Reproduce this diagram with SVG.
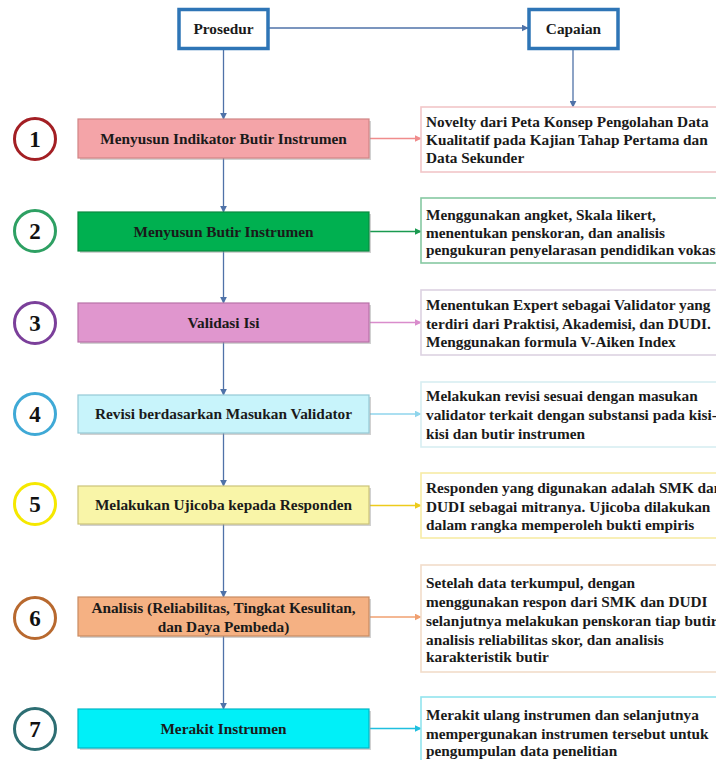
<svg xmlns="http://www.w3.org/2000/svg" width="716" height="760" viewBox="0 0 716 760">
<defs>
<style>
.t{font-family:"Liberation Serif","Times New Roman",serif;font-weight:bold;font-size:15.3px;fill:#1a1a1a}
.c{text-anchor:middle}
.num{font-family:"Liberation Serif","Times New Roman",serif;font-weight:bold;font-size:23px;fill:#111;text-anchor:middle}
.hdr{fill:#fff;stroke:#2E75B6;stroke-width:3.5}
.sh{fill:#9a9a9a;opacity:0.45}
.lb{stroke-width:1.2}
.rb{fill:#fff;stroke-width:1.6}
.circ{fill:#fff;stroke-width:3}
.v{stroke:#4F72A8;stroke-width:1.3;fill:none}
</style>
<marker id="ab" viewBox="0 0 10 10" refX="9" refY="5" markerWidth="7" markerHeight="7" markerUnits="userSpaceOnUse" orient="auto"><path d="M0,0 L10,5 L0,10 z" fill="#4F72A8"/></marker>
<marker id="a1" viewBox="0 0 10 10" refX="9" refY="5" markerWidth="7" markerHeight="7" markerUnits="userSpaceOnUse" orient="auto"><path d="M0,0 L10,5 L0,10 z" fill="#F08C8C"/></marker>
<marker id="a2" viewBox="0 0 10 10" refX="9" refY="5" markerWidth="7" markerHeight="7" markerUnits="userSpaceOnUse" orient="auto"><path d="M0,0 L10,5 L0,10 z" fill="#1A9A50"/></marker>
<marker id="a3" viewBox="0 0 10 10" refX="9" refY="5" markerWidth="7" markerHeight="7" markerUnits="userSpaceOnUse" orient="auto"><path d="M0,0 L10,5 L0,10 z" fill="#D98CCC"/></marker>
<marker id="a4" viewBox="0 0 10 10" refX="9" refY="5" markerWidth="7" markerHeight="7" markerUnits="userSpaceOnUse" orient="auto"><path d="M0,0 L10,5 L0,10 z" fill="#8FD5EC"/></marker>
<marker id="a5" viewBox="0 0 10 10" refX="9" refY="5" markerWidth="7" markerHeight="7" markerUnits="userSpaceOnUse" orient="auto"><path d="M0,0 L10,5 L0,10 z" fill="#EDCB1C"/></marker>
<marker id="a6" viewBox="0 0 10 10" refX="9" refY="5" markerWidth="7" markerHeight="7" markerUnits="userSpaceOnUse" orient="auto"><path d="M0,0 L10,5 L0,10 z" fill="#F0A070"/></marker>
<marker id="a7" viewBox="0 0 10 10" refX="9" refY="5" markerWidth="7" markerHeight="7" markerUnits="userSpaceOnUse" orient="auto"><path d="M0,0 L10,5 L0,10 z" fill="#1FBFDF"/></marker>
</defs>
<rect width="716" height="760" fill="#fff"/>

<g id="connectors">
<line class="v" x1="268" y1="28" x2="528" y2="28" marker-end="url(#ab)"/>
<line class="v" x1="573" y1="49" x2="573" y2="107" marker-end="url(#ab)"/>
<line class="v" x1="223.5" y1="49" x2="223.5" y2="119" marker-end="url(#ab)"/>
<line class="v" x1="223.5" y1="158" x2="223.5" y2="212" marker-end="url(#ab)"/>
<line class="v" x1="223.5" y1="251" x2="223.5" y2="303" marker-end="url(#ab)"/>
<line class="v" x1="223.5" y1="342" x2="223.5" y2="395" marker-end="url(#ab)"/>
<line class="v" x1="223.5" y1="433" x2="223.5" y2="486" marker-end="url(#ab)"/>
<line class="v" x1="223.5" y1="524" x2="223.5" y2="597" marker-end="url(#ab)"/>
<line class="v" x1="223.5" y1="636" x2="223.5" y2="709" marker-end="url(#ab)"/>
<line x1="370" y1="138.5" x2="421" y2="138.5" stroke="#F08C8C" stroke-width="1.4" marker-end="url(#a1)"/>
<line x1="370" y1="231.5" x2="421" y2="231.5" stroke="#1A9A50" stroke-width="1.4" marker-end="url(#a2)"/>
<line x1="370" y1="322.5" x2="421" y2="322.5" stroke="#D98CCC" stroke-width="1.4" marker-end="url(#a3)"/>
<line x1="370" y1="414" x2="421" y2="414" stroke="#8FD5EC" stroke-width="1.4" marker-end="url(#a4)"/>
<line x1="370" y1="505.5" x2="421" y2="505.5" stroke="#EDCB1C" stroke-width="1.4" marker-end="url(#a5)"/>
<line x1="370" y1="617" x2="421" y2="617" stroke="#F0A070" stroke-width="1.4" marker-end="url(#a6)"/>
<line x1="370" y1="728.5" x2="421" y2="728.5" stroke="#1FBFDF" stroke-width="1.4" marker-end="url(#a7)"/>
</g>

<g id="prosedur"><rect class="hdr" x="179" y="9.5" width="89" height="39"/><text class="t c" x="223.5" y="33.5">Prosedur</text></g>
<g id="capaian"><rect class="hdr" x="529" y="9.5" width="89" height="39"/><text class="t c" x="573.5" y="33.5">Capaian</text></g>

<g id="n1">
<circle class="circ" cx="35" cy="139" r="20.5" stroke="#A31F24"/><text class="num" x="35" y="147">1</text>
<rect class="sh" x="80" y="121" width="291" height="39"/>
<rect class="lb" x="78" y="119" width="291" height="39" fill="#F4A4A8" stroke="#D08585"/>
<text class="t c" x="223.5" y="143.5">Menyusun Indikator Butir Instrumen</text>
</g>
<g id="r1">
<rect class="rb" x="421" y="107" width="300" height="65" stroke="#F2C6C8"/>
<text class="t" x="426" y="127">Novelty dari Peta Konsep Pengolahan Data</text>
<text class="t" x="426" y="145">Kualitatif pada Kajian Tahap Pertama dan</text>
<text class="t" x="426" y="162.5">Data Sekunder</text>
</g>

<g id="n2">
<circle class="circ" cx="35" cy="231" r="20.5" stroke="#2EA063"/><text class="num" x="35" y="239">2</text>
<rect class="sh" x="80" y="214" width="291" height="39"/>
<rect class="lb" x="78" y="212" width="291" height="39" fill="#00B050" stroke="#0B8A40"/>
<text class="t c" x="223.5" y="236.5">Menyusun Butir Instrumen</text>
</g>
<g id="r2">
<rect class="rb" x="421" y="198" width="300" height="65" stroke="#86C9A2"/>
<text class="t" x="426" y="220">Menggunakan angket, Skala likert,</text>
<text class="t" x="426" y="237.5">menentukan penskoran, dan analisis</text>
<text class="t" x="426" y="254.5">pengukuran penyelarasan pendidikan vokasi</text>
</g>

<g id="n3">
<circle class="circ" cx="35" cy="323" r="20.5" stroke="#7B3F9A"/><text class="num" x="35" y="331">3</text>
<rect class="sh" x="80" y="305" width="291" height="39"/>
<rect class="lb" x="78" y="303" width="291" height="39" fill="#E096CE" stroke="#B872A8"/>
<text class="t c" x="223.5" y="327.5">Validasi Isi</text>
</g>
<g id="r3">
<rect class="rb" x="421" y="290" width="300" height="65" stroke="#DCD2E2"/>
<text class="t" x="426" y="310">Menentukan Expert sebagai Validator yang</text>
<text class="t" x="426" y="328.5">terdiri dari Praktisi, Akademisi, dan DUDI.</text>
<text class="t" x="426" y="347">Menggunakan formula V-Aiken Index</text>
</g>

<g id="n4">
<circle class="circ" cx="35" cy="414" r="20.5" stroke="#3FA9D6"/><text class="num" x="35" y="422">4</text>
<rect class="sh" x="80" y="397" width="291" height="38"/>
<rect class="lb" x="78" y="395" width="291" height="38" fill="#C8F4FB" stroke="#94C8D6"/>
<text class="t c" x="223.5" y="419">Revisi berdasarkan Masukan Validator</text>
</g>
<g id="r4">
<rect class="rb" x="421" y="382" width="300" height="65" stroke="#D8EEF2"/>
<text class="t" x="426" y="401">Melakukan revisi sesuai dengan masukan</text>
<text class="t" x="426" y="420">validator terkait dengan substansi pada kisi-</text>
<text class="t" x="426" y="438.5">kisi dan butir instrumen</text>
</g>

<g id="n5">
<circle class="circ" cx="35" cy="504" r="20.5" stroke="#F5E800"/><text class="num" x="35" y="512">5</text>
<rect class="sh" x="80" y="488" width="291" height="38"/>
<rect class="lb" x="78" y="486" width="291" height="38" fill="#F9F5A8" stroke="#CBC37A"/>
<text class="t c" x="223.5" y="510">Melakukan Ujicoba kepada Responden</text>
</g>
<g id="r5">
<rect class="rb" x="421" y="473" width="300" height="65" stroke="#F7EBA6"/>
<text class="t" x="426" y="493">Responden yang digunakan adalah SMK dan</text>
<text class="t" x="426" y="512">DUDI sebagai mitranya. Ujicoba dilakukan</text>
<text class="t" x="426" y="530">dalam rangka memperoleh bukti empiris</text>
</g>

<g id="n6">
<circle class="circ" cx="35" cy="618" r="20.5" stroke="#B8692F"/><text class="num" x="35" y="626">6</text>
<rect class="sh" x="80" y="599" width="291" height="39"/>
<rect class="lb" x="78" y="597" width="291" height="39" fill="#F5B183" stroke="#C98B62"/>
<text class="t c" x="223.5" y="613">Analisis (Reliabilitas, Tingkat Kesulitan,</text>
<text class="t c" x="223.5" y="631.5">dan Daya Pembeda)</text>
</g>
<g id="r6">
<rect class="rb" x="421" y="565" width="300" height="107" stroke="#F2DCCA"/>
<text class="t" x="426" y="588">Setelah data terkumpul, dengan</text>
<text class="t" x="426" y="606.5">menggunakan respon dari SMK dan DUDI</text>
<text class="t" x="426" y="626">selanjutnya melakukan penskoran tiap butir,</text>
<text class="t" x="426" y="644.5">analisis reliabilitas skor, dan analisis</text>
<text class="t" x="426" y="662">karakteristik butir</text>
</g>

<g id="n7">
<circle class="circ" cx="35" cy="729" r="20.5" stroke="#2D6E73"/><text class="num" x="35" y="737">7</text>
<rect class="sh" x="80" y="711" width="291" height="39"/>
<rect class="lb" x="78" y="709" width="291" height="39" fill="#00F0F8" stroke="#00B6C6"/>
<text class="t c" x="223.5" y="733.5">Merakit Instrumen</text>
</g>
<g id="r7">
<rect class="rb" x="421" y="697" width="300" height="80" stroke="#92E4EE"/>
<text class="t" x="426" y="720">Merakit ulang instrumen dan selanjutnya</text>
<text class="t" x="426" y="738.5">mempergunakan instrumen tersebut untuk</text>
<text class="t" x="426" y="756">pengumpulan data penelitian</text>
</g>
</svg>
